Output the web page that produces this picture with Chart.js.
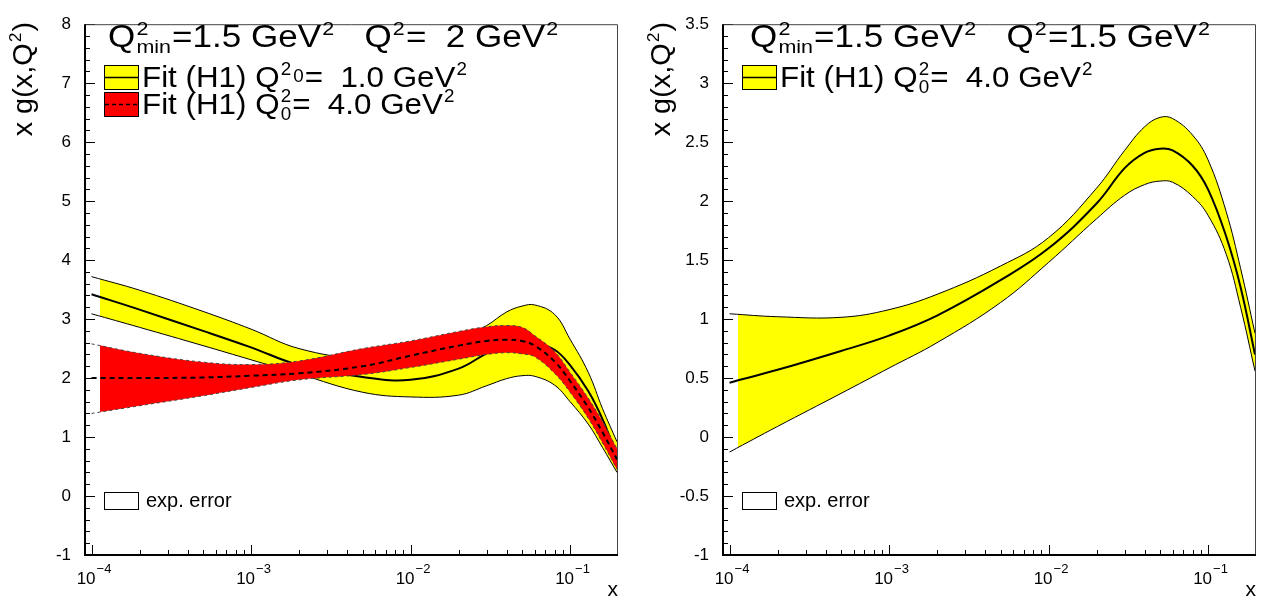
<!DOCTYPE html>
<html lang="en">
<head>
<meta charset="UTF-8">
<title>x g(x,Q2) fits</title>
<script src="https://cdn.jsdelivr.net/npm/chart.js@4"></script>
<style>
  body { margin: 0; background: #fff; width: 1262px; height: 607px; overflow: hidden; position: relative; }
  .panel { position: absolute; top: 0; height: 607px; }
  #left { left: 0; width: 638px; }
  #right { left: 638px; width: 624px; }
</style>
</head>
<body>
<div class="panel" id="left"><canvas id="cLeft"></canvas></div>
<div class="panel" id="right"><canvas id="cRight"></canvas></div>
<script>
// x grid shared by every curve
const xPoints = [1e-4, 2e-4, 5e-4, 1e-3, 2e-3, 5e-3, 1e-2, 2e-2, 3e-2, 4e-2, 5e-2, 6e-2, 8e-2, 0.1, 0.13, 0.16, 0.197];

// left panel: Q2 = 2 GeV2
const fit1Upper   = [3.72, 3.49, 3.13, 2.83, 2.50, 2.33, 2.40, 2.65, 2.89, 3.12, 3.22, 3.24, 3.08, 2.66, 2.10, 1.48, 0.92];
const fit1Central = [3.42, 3.16, 2.80, 2.52, 2.22, 2.02, 1.97, 2.16, 2.42, 2.57, 2.62, 2.60, 2.48, 2.22, 1.78, 1.30, 0.68];
const fit1Lower   = [3.09, 2.86, 2.55, 2.31, 2.07, 1.76, 1.68, 1.71, 1.87, 1.99, 2.04, 2.03, 1.88, 1.60, 1.22, 0.82, 0.40];
const fit4Upper   = [2.58, 2.42, 2.27, 2.23, 2.29, 2.50, 2.63, 2.79, 2.87, 2.89, 2.86, 2.72, 2.45, 2.10, 1.66, 1.26, 0.80];
const fit4Central = [2.00, 2.00, 2.01, 2.04, 2.08, 2.20, 2.38, 2.55, 2.63, 2.65, 2.63, 2.55, 2.28, 1.95, 1.50, 1.08, 0.62];
const fit4Lower   = [1.40, 1.53, 1.70, 1.84, 1.97, 2.06, 2.18, 2.32, 2.40, 2.43, 2.41, 2.36, 2.08, 1.76, 1.32, 0.90, 0.45];

// right panel: Q2 = 1.5 GeV2
const fitRUpper   = [1.045, 1.02, 1.015, 1.08, 1.21, 1.45, 1.69, 2.11, 2.43, 2.63, 2.71, 2.70, 2.56, 2.35, 1.91, 1.43, 0.88];
const fitRCentral = [0.46, 0.57, 0.73, 0.86, 1.03, 1.33, 1.60, 1.98, 2.28, 2.41, 2.445, 2.43, 2.30, 2.10, 1.70, 1.27, 0.70];
const fitRLower   = [-0.127, 0.09, 0.37, 0.585, 0.80, 1.14, 1.48, 1.85, 2.05, 2.14, 2.17, 2.16, 2.04, 1.88, 1.55, 1.10, 0.56];

// axes
const xMin = 9.1e-5, xMax = 0.197;
const fillStart = 1.13e-4;   // bands are filled from here, edge lines start at 1e-4
const xTickValues = [1e-4, 1e-3, 1e-2, 1e-1];
const xTickExponents = ['−4', '−3', '−2', '−1'];
const yTicksLeft = [-1, 0, 1, 2, 3, 4, 5, 6, 7, 8];
const yTicksRight = [-1, -0.5, 0, 0.5, 1, 1.5, 2, 2.5, 3, 3.5];

// texts
const headerLeft  = ['Q', {up: '2', down: 'min'}, '=1.5 GeV', {up: '2'}, '   Q', {up: '2'}, '=  2 GeV', {up: '2'}];
const headerRight = ['Q', {up: '2', down: 'min'}, '=1.5 GeV', {up: '2'}, '   Q', {up: '2'}, '=1.5 GeV', {up: '2'}];
const legendQ1 = ['Fit (H1) Q', {up: '2'}, {mid: '0'}, '=  1.0 GeV', {up: '2'}];
const legendQ4 = ['Fit (H1) Q', {up: '2', down: '0'}, '=  4.0 GeV', {up: '2'}];
const yTitle = ['x g(x,Q', {up: '2'}, ')'];

const FONT = "'Liberation Sans', Arial, Helvetica, sans-serif";
const YELLOW = '#ffff00';
const RED = '#ff0000';

function pts(ys) {
    return xPoints.map((x, i) => ({x: x, y: ys[i]}));
}

// rich text with ROOT style super/subscripts, sx = horizontal stretch
function richWidth(ctx, parts, size, sx) {
    let w = 0;
    const small = Math.round(size * 0.6);
    parts.forEach(p => {
        if (typeof p === 'string') {
            ctx.font = size + 'px ' + FONT;
            w += ctx.measureText(p).width;
        } else {
            ctx.font = small + 'px ' + FONT;
            const a = ctx.measureText(p.up || p.mid || '').width;
            const b = ctx.measureText(p.down || '').width;
            w += Math.max(a, b) + 2;
        }
    });
    return w * sx;
}

function drawRich(ctx, x, y, parts, size, sx) {
    let cx = 0;
    const small = Math.round(size * 0.6);
    ctx.save();
    ctx.translate(x, y);
    ctx.scale(sx, 1);
    ctx.textAlign = 'left';
    ctx.textBaseline = 'alphabetic';
    parts.forEach(p => {
        if (typeof p === 'string') {
            ctx.font = size + 'px ' + FONT;
            ctx.fillText(p, cx, 0);
            cx += ctx.measureText(p).width;
        } else {
            ctx.font = small + 'px ' + FONT;
            let w = 0;
            if (p.up) {
                ctx.fillText(p.up, cx + 1, -size * 0.4);
                w = Math.max(w, ctx.measureText(p.up).width);
            }
            if (p.mid) {
                ctx.fillText(p.mid, cx + 1, -size * 0.17);
                w = Math.max(w, ctx.measureText(p.mid).width);
            }
            if (p.down) {
                ctx.fillText(p.down, cx + 1, size * 0.2);
                w = Math.max(w, ctx.measureText(p.down).width);
            }
            cx += w + 2;
        }
    });
    ctx.restore();
}

function legendBox(ctx, x, y, w, h, fillColor, dash) {
    ctx.fillStyle = fillColor;
    ctx.fillRect(x, y, w, h);
    ctx.strokeStyle = '#000';
    ctx.lineWidth = 1;
    ctx.setLineDash([]);
    ctx.strokeRect(x + 0.5, y + 0.5, w, h);
    if (dash !== null) {
        ctx.lineWidth = 1.5;
        ctx.setLineDash(dash ? [4, 3] : []);
        ctx.beginPath();
        ctx.moveTo(x + 1, y + h / 2 + 0.5);
        ctx.lineTo(x + w, y + h / 2 + 0.5);
        ctx.stroke();
        ctx.setLineDash([]);
    }
}

// ROOT look: inner ticks, frame, header and legend
const rootFrame = {
    id: 'rootFrame',
    beforeDatasetDraw(chart, args) {
        // the filler has just painted this band; blank the strip left of fillStart
        const ds = chart.data.datasets[args.index];
        if (!ds.fill) return;
        const ctx = chart.ctx;
        const xs = chart.scales.x, ys = chart.scales.y;
        const partner = chart.data.datasets[ds.fill.target];
        const x0 = chart.chartArea.left + 1;
        const x1 = xs.getPixelForValue(fillStart);
        const yTop = ys.getPixelForValue(ds.data[0].y) - 4;
        const yBot = ys.getPixelForValue(partner.data[0].y) + 4;
        ctx.save();
        ctx.fillStyle = '#fff';
        ctx.fillRect(x0, yTop, x1 - x0, yBot - yTop);
        ctx.restore();
    },
    afterDraw(chart, args, opts) {
        const ctx = chart.ctx;
        const a = chart.chartArea;
        const xs = chart.scales.x, ys = chart.scales.y;
        ctx.save();

        // y ticks (inside)
        ctx.strokeStyle = '#000';
        ctx.lineWidth = 1;
        const n = Math.round((ys.max - ys.min) / opts.yMinor);
        for (let i = 0; i <= n; i++) {
            const v = ys.min + i * opts.yMinor;
            const py = Math.round(ys.getPixelForValue(v)) + 0.5;
            const len = (i % opts.yPerMajor === 0) ? 10 : 5;
            ctx.beginPath();
            ctx.moveTo(a.left, py);
            ctx.lineTo(a.left + len, py);
            ctx.stroke();
        }
        // x ticks (inside, log)
        for (let d = -5; d <= 0; d++) {
            for (let k = 1; k <= 9; k++) {
                const v = k * Math.pow(10, d);
                if (v < xs.min || v > xs.max) continue;
                const px = Math.round(xs.getPixelForValue(v)) + 0.5;
                const len = k === 1 ? 10 : 5;
                ctx.beginPath();
                ctx.moveTo(px, a.bottom);
                ctx.lineTo(px, a.bottom - len);
                ctx.stroke();
            }
        }
        // x tick labels 10^n
        ctx.fillStyle = '#000';
        ctx.textAlign = 'left';
        ctx.textBaseline = 'alphabetic';
        xTickValues.forEach((v, i) => {
            ctx.font = '17px ' + FONT;
            const wBase = ctx.measureText('10').width;
            ctx.font = '13px ' + FONT;
            const wExp = ctx.measureText(xTickExponents[i]).width;
            const left = xs.getPixelForValue(v) - (wBase + wExp) / 2 + 2;
            ctx.font = '17px ' + FONT;
            ctx.fillText('10', left, 584);
            ctx.font = '13px ' + FONT;
            ctx.fillText(xTickExponents[i], left + wBase + 1, 573);
        });

        // frame
        ctx.strokeStyle = '#444';
        ctx.lineWidth = 1;
        ctx.beginPath();
        ctx.moveTo(a.left, a.top + 0.5);
        ctx.lineTo(a.right + 0.5, a.top + 0.5);
        ctx.lineTo(a.right + 0.5, a.bottom);
        ctx.stroke();
        ctx.strokeStyle = '#000';
        ctx.lineWidth = 2;
        ctx.beginPath();
        ctx.moveTo(a.left, a.top);
        ctx.lineTo(a.left, a.bottom);
        ctx.lineTo(a.right + 1, a.bottom);
        ctx.stroke();

        ctx.fillStyle = '#000';
        // header
        drawRich(ctx, opts.headerX, 47, opts.header, 31, 1.13);
        // legend
        opts.legend.forEach((item, i) => {
            const top = 65 + i * 27;
            legendBox(ctx, 104, top, 34, 24, item.color, item.dash);
            ctx.fillStyle = '#000';
            drawRich(ctx, 142, top + 22, item.text, 30, 1.045);
        });
        // exp. error box
        legendBox(ctx, 104, 492, 34, 17, '#fff', null);
        ctx.fillStyle = '#000';
        ctx.font = '20px ' + FONT;
        ctx.textAlign = 'left';
        ctx.fillText('exp. error', 146, 507);

        // axis titles
        ctx.font = '21px ' + FONT;
        ctx.textAlign = 'right';
        ctx.fillText('x', a.right + 1, 596);
        const w = richWidth(ctx, yTitle, 28, 1.03);
        ctx.translate(32, 22);
        ctx.rotate(-Math.PI / 2);
        drawRich(ctx, -w, 0, yTitle, 28, 1.03);
        ctx.restore();
    }
};

function lineSet(label, ys, width, color, dash, order, extra) {
    return Object.assign({
        label: label,
        data: pts(ys),
        borderColor: color,
        borderWidth: width,
        borderDash: dash,
        pointRadius: 0,
        fill: false,
        tension: 0.4,
        order: order
    }, extra || {});
}

function makePanel(id, datasets, yMin, yMax, yTicks, frameOpts, padRight) {
    return new Chart(document.getElementById(id), {
        type: 'line',
        data: {datasets: datasets},
        options: {
            responsive: true,
            maintainAspectRatio: false,
            animation: false,
            events: [],
            layout: {padding: {top: 5, right: padRight, left: 0, bottom: 0}},
            plugins: {
                legend: {display: false},
                tooltip: {enabled: false},
                rootFrame: frameOpts
            },
            scales: {
                x: {
                    type: 'logarithmic',
                    min: xMin,
                    max: xMax,
                    afterBuildTicks: s => { s.ticks = xTickValues.map(v => ({value: v})); },
                    afterFit: s => { s.height = 52; },
                    grid: {display: false, drawTicks: false},
                    border: {display: false},
                    ticks: {display: false}
                },
                y: {
                    type: 'linear',
                    min: yMin,
                    max: yMax,
                    afterBuildTicks: s => { s.ticks = yTicks.map(v => ({value: v})); },
                    afterFit: s => { s.width = 85; },
                    grid: {display: false, drawTicks: false},
                    border: {display: false},
                    ticks: {
                        padding: 14,
                        color: '#000',
                        font: {family: FONT, size: 17},
                        callback: v => String(v)
                    }
                }
            }
        },
        plugins: [rootFrame]
    });
}

makePanel('cLeft', [
    lineSet('fit1Upper', fit1Upper, 1, '#000', [], 10, {backgroundColor: YELLOW, fill: {target: 1}}),
    lineSet('fit1Lower', fit1Lower, 1, '#000', [], 9),
    lineSet('fit1Central', fit1Central, 2, '#000', [], 8),
    lineSet('fit4Upper', fit4Upper, 1, '#444', [3, 3], 7, {backgroundColor: RED, fill: {target: 4}}),
    lineSet('fit4Lower', fit4Lower, 1, '#444', [3, 3], 6),
    lineSet('fit4Central', fit4Central, 2, '#000', [5, 4], 5)
], -1, 8, yTicksLeft, {
    yMinor: 0.2, yPerMajor: 5, headerX: 108, header: headerLeft,
    legend: [
        {color: YELLOW, dash: false, text: legendQ1},
        {color: RED, dash: true, text: legendQ4}
    ]
}, 21);

makePanel('cRight', [
    lineSet('fitRUpper', fitRUpper, 1, '#000', [], 10, {backgroundColor: YELLOW, fill: {target: 1}}),
    lineSet('fitRLower', fitRLower, 1, '#000', [], 9),
    lineSet('fitRCentral', fitRCentral, 2, '#000', [], 8)
], -1, 3.5, yTicksRight, {
    yMinor: 0.1, yPerMajor: 5, headerX: 112, header: headerRight,
    legend: [
        {color: YELLOW, dash: false, text: legendQ4}
    ]
}, 7);
</script>
</body>
</html>
